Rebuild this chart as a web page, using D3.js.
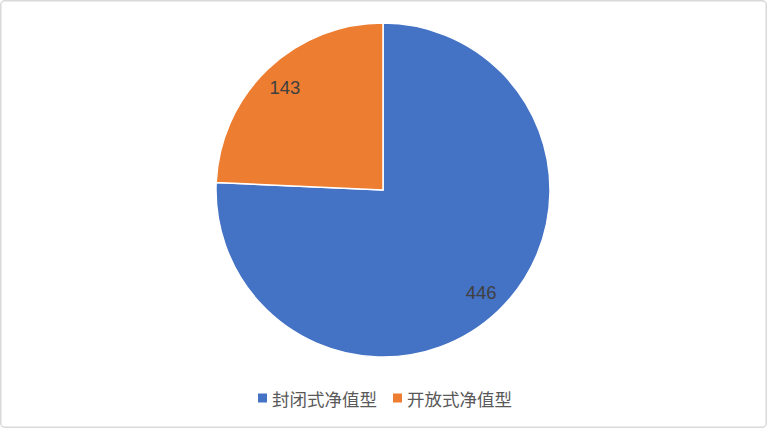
<!DOCTYPE html>
<html>
<head>
<meta charset="utf-8">
<script src="https://cdn.jsdelivr.net/npm/d3@7"></script>
<style>
  html, body { margin: 0; padding: 0; background: #fff; }
  svg { display: block; }
</style>
</head>
<body>
<div id="chart"></div>
<script>
// slices, clockwise from 12 o'clock
const categories = ["封闭式净值型", "开放式净值型"];
const values = [446, 143];
const colors = ["#4472C4", "#ED7D31"];

const width = 767,
  height = 428;
const cx = 383,
  cy = 190,
  radius = 167;

const svg = d3
  .select("#chart")
  .append("svg")
  .attr("width", width)
  .attr("height", height);

svg
  .append("rect")
  .attr("x", 0.75)
  .attr("y", 0.75)
  .attr("width", width - 1.5)
  .attr("height", height - 1.5)
  .attr("rx", 4)
  .attr("fill", "#fff")
  .attr("stroke", "#d9d9d9")
  .attr("stroke-width", 1.5);

const data = categories.map((c, i) => ({ name: c, value: values[i], color: colors[i] }));

const pie = d3.pie().value(d => d.value).sort(null);
const arcs = pie(data);

const arc = d3.arc().innerRadius(0).outerRadius(radius);
const labelArc = d3.arc().innerRadius(radius * 0.85).outerRadius(radius * 0.85);

const g = svg.append("g").attr("transform", `translate(${cx},${cy})`);

g.selectAll("path")
  .data(arcs)
  .enter()
  .append("path")
  .attr("d", arc)
  .attr("fill", d => d.data.color)
  .attr("stroke", "#fff")
  .attr("stroke-width", 1.5);

g.selectAll("text")
  .data(arcs)
  .enter()
  .append("text")
  .attr("transform", d => `translate(${labelArc.centroid(d)})`)
  .attr("text-anchor", "middle")
  .attr("dominant-baseline", "central")
  .attr("font-family", "Liberation Sans, Arial, sans-serif")
  .attr("font-size", "18.5px")
  .attr("fill", "#404040")
  .text(d => d.data.value);

// legend
const legendX = [258, 393];
const legend = svg
  .selectAll(".legend")
  .data(data)
  .enter()
  .append("g")
  .attr("class", "legend")
  .attr("transform", (d, i) => `translate(${legendX[i]},398)`);

legend
  .append("rect")
  .attr("x", 0)
  .attr("y", -4.5)
  .attr("width", 9)
  .attr("height", 9)
  .attr("fill", d => d.color);

legend
  .append("text")
  .attr("x", 14)
  .attr("y", 0)
  .attr("dominant-baseline", "central")
  .attr("font-family", "Noto Sans CJK SC, sans-serif")
  .attr("font-size", "17.5px")
  .attr("fill", "#595959")
  .text(d => d.name);
</script>
</body>
</html>
